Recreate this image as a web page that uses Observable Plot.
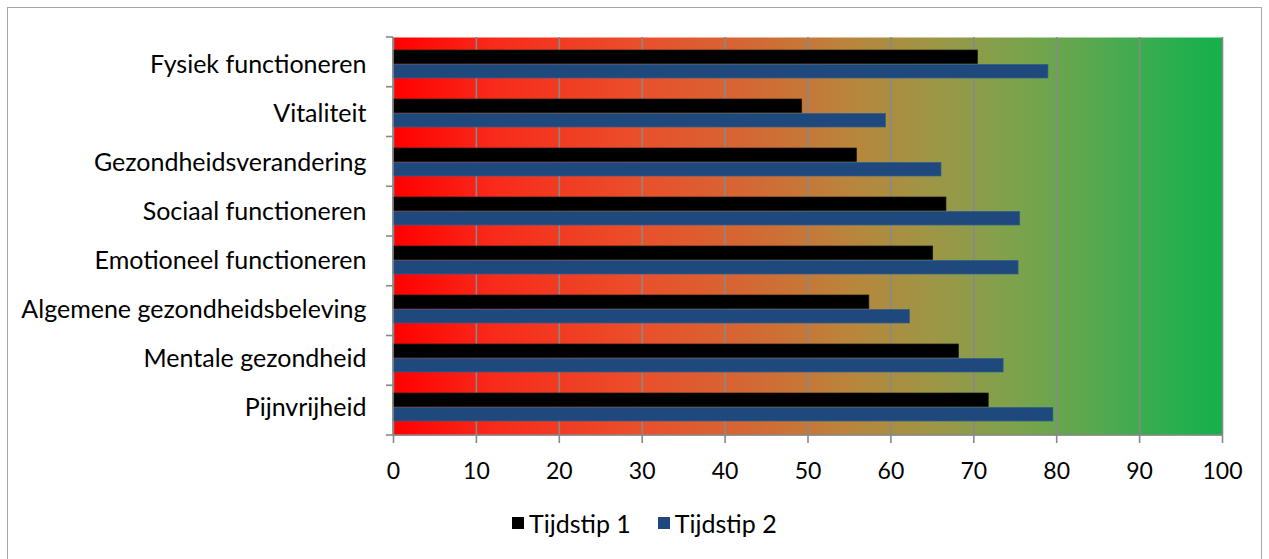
<!DOCTYPE html>
<html>
<head>
<meta charset="utf-8">
<script src="https://cdn.jsdelivr.net/npm/d3@7"></script>
<script src="https://cdn.jsdelivr.net/npm/@observablehq/plot@0.6"></script>
<style>
  html, body { margin: 0; padding: 0; background: #fff; }
  body { width: 1269px; height: 559px; position: relative; overflow: hidden; font-family: Lato, "Open Sans", sans-serif; }
  #border { position: absolute; left: 7px; top: 7px; width: 1255px; height: 600px; border: 1.5px solid #a6a6a6; box-sizing: border-box; }
  #chart { position: absolute; left: 0; top: 0; }
  #legend { position: absolute; top: 508px; left: 512px; display: flex; font-size: 25px; color: #000; }
  .item { display: flex; align-items: center; margin-right: 27px; }
  .sw { width: 12px; height: 12px; margin-right: 5px; }
</style>
</head>
<body>
<div id="border"></div>
<div id="chart"></div>
<div id="legend"></div>
<script>
const categories = ["Fysiek functioneren", "Vitaliteit", "Gezondheidsverandering", "Sociaal functioneren", "Emotioneel functioneren", "Algemene gezondheidsbeleving", "Mentale gezondheid", "Pijnvrijheid"];
const tijdstip1 = [70.5, 49.3, 55.9, 66.7, 65.1, 57.4, 68.2, 71.8];
const tijdstip2 = [79.0, 59.4, 66.1, 75.6, 75.4, 62.3, 73.6, 79.6];
const xTicks = [0, 10, 20, 30, 40, 50, 60, 70, 80, 90, 100];
const seriesNames = ["Tijdstip 1", "Tijdstip 2"];
const seriesColors = ["#000000", "#1f497d"];

const W = 1269, H = 490, mL = 393, mR = 47, mT = 37, mB = 55;
const pIn = 0.42, pOut = 0.21;
const step = (H - mB - mT) / categories.length;
const half = step * (1 - pIn) / 2;

const d1 = categories.map((c, i) => ({category: c, value: tijdstip1[i]}));
const d2 = categories.map((c, i) => ({category: c, value: tijdstip2[i]}));

const defs = () => {
  const g = d3.create("svg:defs");
  const lg = g.append("linearGradient").attr("id", "bg").attr("x1", 0).attr("x2", 1).attr("y1", 0).attr("y2", 0);
  [[0, "#ff0000"], [0.12, "#f82a1b"], [0.3, "#e9502b"], [0.45, "#d06c35"], [0.55, "#b9853c"], [0.65, "#9d9646"], [0.75, "#7da24c"], [0.85, "#55a94f"], [0.92, "#33ad4f"], [1, "#14b04c"]]
    .forEach(([o, c]) => lg.append("stop").attr("offset", o).attr("stop-color", c));
  return g.node();
};

const chart = Plot.plot({
  width: W, height: H,
  marginLeft: mL, marginRight: mR, marginTop: mT, marginBottom: mB,
  style: {fontFamily: "Lato, 'Open Sans', sans-serif", fontSize: "24px", color: "#000", background: "transparent", overflow: "visible"},
  x: {domain: [0, 100], ticks: xTicks, label: null},
  y: {domain: categories, paddingInner: pIn, paddingOuter: pOut, label: null},
  marks: [
    defs,
    Plot.frame({fill: "url(#bg)", stroke: null}),
    Plot.gridX(xTicks, {stroke: "#888888", strokeOpacity: 1, strokeWidth: 1.6}),
    Plot.barX(d1, {x: "value", y: "category", fill: seriesColors[0], stroke: "#1a1a0a", strokeWidth: 0.7, insetBottom: half}),
    Plot.barX(d2, {x: "value", y: "category", fill: seriesColors[1], stroke: "#2f5f8f", strokeWidth: 0.7, insetTop: half}),
    Plot.axisX({ticks: xTicks, tickSize: 8, tickPadding: 19, stroke: "#888888", strokeWidth: 1.6, fill: "#000", fontSize: 23, tickFormat: d => String(d), label: null}),
    Plot.axisY({tickSize: 0, tickPadding: 27, fill: "#000", fontSize: 25, label: null})
  ]
});
document.getElementById("chart").append(chart);

// axis lines and category boundary ticks, from the plot's own scales
const x = chart.scale("x"), y = chart.scale("y");
const svg = d3.select(chart);
const g = svg.append("g").attr("stroke", "#888888").attr("stroke-width", 1.6);
const x0 = x.apply(0), x100 = x.apply(100);
const [r0, r1] = y.range;
const bounds = d3.range(categories.length + 1).map(i => r0 + i * (r1 - r0) / categories.length);
g.append("line").attr("x1", x0).attr("x2", x100).attr("y1", r1).attr("y2", r1);
g.append("line").attr("x1", x0).attr("x2", x0).attr("y1", r0).attr("y2", r1);
bounds.forEach(b => g.append("line").attr("x1", x0 - 7).attr("x2", x0).attr("y1", b).attr("y2", b));

const legend = d3.select("#legend");
seriesNames.forEach((n, i) => {
  const it = legend.append("div").attr("class", "item");
  it.append("div").attr("class", "sw").style("background", seriesColors[i]);
  it.append("span").text(n);
});
</script>
</body>
</html>
